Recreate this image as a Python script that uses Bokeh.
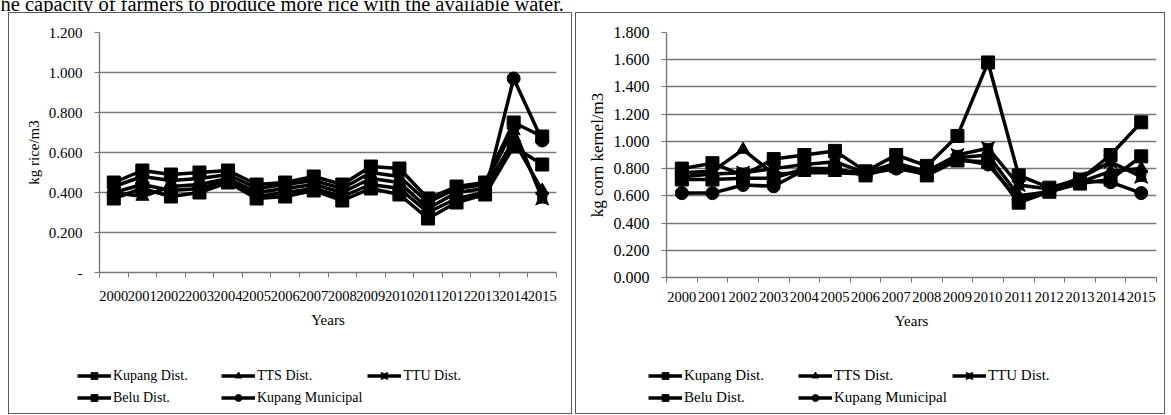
from bokeh.plotting import figure
from bokeh.models import (Range1d, FixedTicker, NumeralTickFormatter, Label,
                          Legend, LegendItem, Spacer)
from bokeh.layouts import column, row
from bokeh.embed import file_html
from bokeh.resources import INLINE

# Categories
years = [str(y) for y in range(2000, 2016)]
series_names = ["Kupang Dist.", "TTS Dist.", "TTU Dist.", "Belu Dist.", "Kupang Municipal"]
series_markers = ["square", "triangle", "square_pin", "square", "circle"]

# Rice water productivity (kg rice / m3)
rice_kupang = [0.45, 0.51, 0.49, 0.50, 0.51, 0.44, 0.45, 0.48, 0.44, 0.53, 0.52, 0.37, 0.43, 0.45, 0.75, 0.68]
rice_tts = [0.40, 0.38, 0.43, 0.44, 0.47, 0.40, 0.42, 0.44, 0.40, 0.47, 0.45, 0.32, 0.40, 0.42, 0.66, 0.41]
rice_ttu = [0.43, 0.48, 0.46, 0.47, 0.49, 0.42, 0.44, 0.46, 0.42, 0.50, 0.48, 0.35, 0.42, 0.44, 0.72, 0.37]
rice_belu = [0.37, 0.42, 0.38, 0.40, 0.45, 0.37, 0.38, 0.41, 0.36, 0.42, 0.39, 0.27, 0.35, 0.39, 0.63, 0.54]
rice_municipal = [0.40, 0.44, 0.41, 0.42, 0.46, 0.38, 0.40, 0.42, 0.38, 0.44, 0.42, 0.30, 0.37, 0.40, 0.97, 0.66]

# Corn water productivity (kg corn kernel / m3)
corn_kupang = [0.80, 0.84, 0.75, 0.87, 0.90, 0.93, 0.78, 0.90, 0.82, 1.04, 1.58, 0.75, 0.66, 0.72, 0.90, 1.14]
corn_tts = [0.77, 0.78, 0.94, 0.76, 0.77, 0.77, 0.76, 0.80, 0.76, 0.88, 0.90, 0.60, 0.63, 0.70, 0.78, 0.80]
corn_ttu = [0.74, 0.76, 0.77, 0.80, 0.83, 0.85, 0.77, 0.84, 0.78, 0.90, 0.95, 0.68, 0.65, 0.73, 0.85, 0.74]
corn_belu = [0.72, 0.72, 0.73, 0.73, 0.80, 0.80, 0.75, 0.82, 0.75, 0.86, 0.85, 0.55, 0.63, 0.69, 0.72, 0.89]
corn_municipal = [0.62, 0.62, 0.68, 0.67, 0.79, 0.79, 0.77, 0.80, 0.79, 0.87, 0.83, 0.57, 0.64, 0.71, 0.70, 0.62]

rice_ticks = [0, 0.2, 0.4, 0.6, 0.8, 1.0, 1.2]
corn_ticks = [0, 0.2, 0.4, 0.6, 0.8, 1.0, 1.2, 1.4, 1.6, 1.8]

FONT = "Liberation Serif"
GRID = "#777777"
LINE_W = 3.5
MARK_SIZE = 13

xpos = [i + 0.5 for i in range(len(years))]


def make_chart(width, ymax, ticks, ylabel, data, zero_dash, frame_h, right_pad,
               tick_size, xlabel_standoff, ylabel_size):
    height = 335
    top = 19
    p = figure(width=width, height=height,
               x_range=Range1d(0, len(years)), y_range=Range1d(0, ymax),
               output_backend="svg", toolbar_location=None,
               min_border_left=90, min_border_right=right_pad,
               min_border_top=top, min_border_bottom=height - top - frame_h,
               background_fill_color="white", border_fill_color="white",
               outline_line_color=None)

    p.xgrid.visible = False
    p.ygrid.ticker = FixedTicker(ticks=ticks)
    p.ygrid.grid_line_color = GRID
    p.ygrid.grid_line_width = 1.4

    # y axis
    ya = p.yaxis[0]
    ya.ticker = FixedTicker(ticks=ticks)
    ya.formatter = NumeralTickFormatter(format="0.000")
    if zero_dash:
        ya.major_label_overrides = {0: "-"}
    ya.axis_line_color = GRID
    ya.axis_line_width = 1.4
    ya.major_tick_line_color = GRID
    ya.major_tick_out = 5
    ya.major_tick_in = 0
    ya.minor_tick_line_color = None
    ya.major_label_text_font = FONT
    ya.major_label_text_font_size = f"{tick_size}px"
    ya.major_label_text_color = "black"
    ya.major_label_standoff = 12
    ya.axis_label = ylabel
    ya.axis_label_text_font = FONT
    ya.axis_label_text_font_style = "normal"
    ya.axis_label_text_font_size = ylabel_size
    ya.axis_label_text_color = "black"
    ya.axis_label_standoff = 4

    # x axis: labels centred on categories, tick marks on the boundaries
    xa = p.xaxis[0]
    xa.ticker = FixedTicker(ticks=xpos, minor_ticks=list(range(len(years) + 1)))
    xa.major_label_overrides = {x: y for x, y in zip(xpos, years)}
    xa.major_tick_line_color = None
    xa.minor_tick_line_color = GRID
    xa.minor_tick_out = 5
    xa.minor_tick_in = 0
    xa.axis_line_color = GRID
    xa.axis_line_width = 1.4
    xa.major_label_text_font = FONT
    xa.major_label_text_font_size = "14.5px"
    xa.major_label_text_color = "black"
    xa.major_label_standoff = xlabel_standoff
    xa.axis_label = "Years"
    xa.axis_label_text_font = FONT
    xa.axis_label_text_font_style = "normal"
    xa.axis_label_text_font_size = "15px"
    xa.axis_label_text_color = "black"
    xa.axis_label_standoff = 8

    for mk, vals in zip(series_markers, data):
        p.line(xpos, vals, line_color="black", line_width=LINE_W)
        p.scatter(xpos, vals, marker=mk, size=MARK_SIZE, fill_color="black",
                  line_color="black", line_width=1)
    return p


def make_key(width, height, x0, y0, label_w, font_size, data):
    # Key strip under the chart; its view range sits away from the series,
    # so only the legend entries are visible here
    k = figure(width=width, height=height, x_range=Range1d(0, 1),
               y_range=Range1d(10, 11),
               output_backend="svg", toolbar_location=None, min_border=0,
               x_axis_location=None, y_axis_location=None,
               outline_line_color=None, border_fill_color="white",
               background_fill_color="white")
    k.grid.visible = False
    entries = {}
    for name, mk, vals in zip(series_names, series_markers, data):
        ln = k.line(xpos, vals, line_color="black", line_width=LINE_W)
        sc = k.scatter(xpos, vals, marker=mk, size=11,
                       fill_color="black", line_color="black", line_width=1)
        entries[name] = LegendItem(label=name, renderers=[ln, sc])
    # entries fill the grid column by column: 2 rows x 3 columns
    order = [0, 3, 1, 4, 2]
    items = [entries[series_names[i]] for i in order]
    legend = Legend(items=items, ncols=3, location=(x0, y0),
                    label_text_font=FONT, label_text_font_size=font_size,
                    label_text_color="black", glyph_width=34, glyph_height=17,
                    label_height=17, label_width=label_w,
                    label_standoff=2, spacing=5, padding=0, margin=0,
                    background_fill_alpha=0, border_line_color=None)
    k.add_layout(legend, "center")
    return k


BOX = {"border": "1.5px solid #5a5a5a"}

rice_data = [rice_kupang, rice_tts, rice_ttu, rice_belu, rice_municipal]
corn_data = [corn_kupang, corn_tts, corn_ttu, corn_belu, corn_municipal]

p1 = make_chart(562, 1.2, rice_ticks, "kg rice/m3", rice_data, True, 240, 15, 15, 12, "15px")
k1 = make_key(562, 65, 68, 7, 103, "14px", rice_data)
p2 = make_chart(588, 1.8, corn_ticks, "kg corn kernel/m3", corn_data, False, 245, 8, 16, 8,
                "17px")
k2 = make_key(588, 65, 72, 7, 109, "15px", corn_data)

panel1 = column(p1, row(k1), spacing=0, styles=BOX)
panel2 = column(p2, column(k2), spacing=0, styles=BOX)

# Running text line above the two panels
head = figure(width=1171, height=12, x_range=Range1d(0, 1171), y_range=Range1d(0, 12),
              output_backend="svg", toolbar_location=None, min_border=0,
              x_axis_location=None, y_axis_location=None,
              outline_line_color=None, border_fill_color="white",
              background_fill_color="white")
head.grid.visible = False
head.add_layout(Label(x=0, y=9,
                      text="he capacity of farmers to produce more rice with the available water.",
                      text_font=FONT, text_font_size="20.5px", text_color="black",
                      text_baseline="alphabetic"))

layout = column(head, row(Spacer(width=8), panel1, Spacer(width=3), panel2, spacing=0),
                spacing=0)

with open("out.html", "w") as f:
    f.write(file_html(layout, INLINE))
